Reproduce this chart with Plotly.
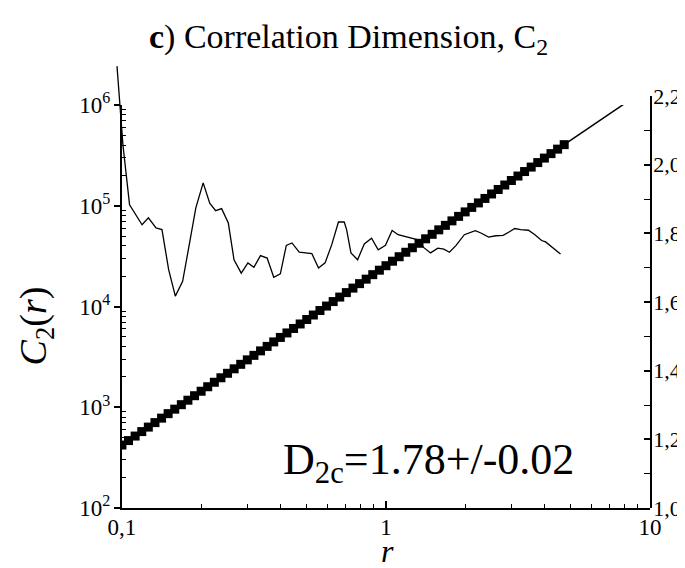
import plotly.graph_objects as go

# ---- data ----
r_c2 = [0.1, 0.1059, 0.1122, 0.1189, 0.1259, 0.1334, 0.1413, 0.1496, 0.1585, 0.1679,
        0.1778, 0.1884, 0.1995, 0.2113, 0.2239, 0.2371, 0.2512, 0.2661, 0.2818, 0.2985,
        0.3162, 0.3350, 0.3548, 0.3758, 0.3981, 0.4217, 0.4467, 0.4732, 0.5012, 0.5309,
        0.5623, 0.5957, 0.6310, 0.6683, 0.7079, 0.7499, 0.7943, 0.8414, 0.8913, 0.9441,
        1.0, 1.059, 1.122, 1.189, 1.259, 1.334, 1.413, 1.496, 1.585, 1.679,
        1.778, 1.884, 1.995, 2.113, 2.239, 2.371, 2.512, 2.661, 2.818, 2.985,
        3.162, 3.350, 3.548, 3.758, 3.981, 4.217, 4.467, 4.732]
c2 = [421.7, 467.1, 517.6, 573.5, 635.3, 703.9, 779.8, 864.0, 957.2, 1060.5,
      1174.9, 1301.7, 1442.1, 1597.7, 1770.1, 1961.1, 2172.7, 2407.2, 2666.9, 2954.6,
      3273.4, 3626.6, 4017.9, 4451.4, 4931.7, 5463.9, 6053.4, 6706.5, 7430, 8232,
      9120, 1.0104e4, 1.1194e4, 1.2402e4, 1.3740e4, 1.5223e4, 1.6866e4, 1.8685e4, 2.0701e4, 2.2935e4,
      2.5410e4, 2.8151e4, 3.1189e4, 3.4554e4, 3.8282e4, 4.2413e4, 4.6989e4, 5.2059e4, 5.7677e4, 6.3900e4,
      7.0795e4, 7.8433e4, 8.6896e4, 9.6272e4, 1.0666e5, 1.1817e5, 1.3092e5, 1.4505e5, 1.6069e5, 1.7804e5,
      1.9724e5, 2.1852e5, 2.4210e5, 2.6823e5, 2.9717e5, 3.2923e5, 3.6475e5, 4.0411e5]

r_fit = [4.732, 10.0]
c_fit = [4.0411e5, 1.53e6]

r_slope = [0.0958, 0.1009, 0.1069, 0.1192, 0.1260, 0.1346, 0.1418, 0.1503, 0.1593, 0.1698,
           0.1799, 0.1905, 0.2031, 0.2151, 0.2265, 0.2386, 0.2529, 0.2658, 0.2831, 0.3000,
           0.3161, 0.3348, 0.3548, 0.3759, 0.3981, 0.4194, 0.4405, 0.4694, 0.5240, 0.5553,
           0.5881, 0.6233, 0.6607, 0.6948, 0.7096, 0.7368, 0.7809, 0.8277, 0.8819, 0.9346,
           0.9956, 1.0553, 1.1117, 1.3224, 1.3881, 1.4748, 1.5727, 1.6566, 1.7393, 1.8432,
           1.9807, 2.1786, 2.2889, 2.4471, 2.6078, 2.7780, 2.9262, 3.0744, 3.2381, 3.4633,
           3.6660, 3.8859, 4.0227, 4.5814]
d_slope = [2.287, 2.057, 1.883, 1.825, 1.845, 1.816, 1.811, 1.694, 1.617, 1.660,
           1.767, 1.874, 1.947, 1.888, 1.866, 1.872, 1.830, 1.723, 1.684, 1.714,
           1.701, 1.735, 1.728, 1.672, 1.682, 1.765, 1.772, 1.745, 1.741, 1.699,
           1.714, 1.767, 1.833, 1.833, 1.811, 1.743, 1.723, 1.769, 1.786, 1.752,
           1.765, 1.808, 1.796, 1.781, 1.759, 1.743, 1.757, 1.754, 1.745, 1.765,
           1.796, 1.808, 1.801, 1.789, 1.793, 1.794, 1.804, 1.814, 1.811, 1.809,
           1.796, 1.779, 1.775, 1.740]

x_tickvals = [0.1, 1, 10]
x_ticktext = ["0,1", "1", "10"]
y_tickvals = [1e2, 1e3, 1e4, 1e5, 1e6]
y_ticktext = ["10<sup>2</sup>", "10<sup>3</sup>", "10<sup>4</sup>", "10<sup>5</sup>", "10<sup>6</sup>"]
y2_tickvals = [1.0, 1.2, 1.4, 1.6, 1.8, 2.0, 2.2]
y2_ticktext = ["1,0", "1,2", "1,4", "1,6", "1,8", "2,0", "2,2"]

FONT = "Liberation Serif"

# ---- geometry (pixels) ----
W, H = 685, 568
L, R, T, B = 100, 40, 50, 68
pw, ph = W - L - R, H - T - B
ax_left = 114
dec_px = (W - R - ax_left) / 2.0
y2_top = 88
y1_top = 97
y2_unit_px = (H - B - y2_top) / 1.2

x_dom0 = (ax_left - L) / pw
x3_lo = -1 - (ax_left - L) / dec_px
y3_hi = 1.0 + ph / y2_unit_px

minor_x = [0.2, 0.3, 0.4, 0.5, 0.6, 0.7, 0.8, 0.9, 2, 3, 4, 5, 6, 7, 8, 9]
minor_y = [m * 10 ** e for e in range(2, 6) for m in range(2, 10)]
minor_y2 = [1.1, 1.3, 1.5, 1.7, 1.9, 2.1]

fig = go.Figure()

fig.add_trace(go.Scatter(x=r_fit, y=c_fit, mode="lines",
                         line=dict(color="black", width=1.5),
                         xaxis="x", yaxis="y", showlegend=False, hoverinfo="skip"))
fig.add_trace(go.Scatter(x=r_c2, y=c2, mode="lines+markers",
                         line=dict(color="black", width=1.5),
                         marker=dict(symbol="square", size=9, color="black"),
                         xaxis="x", yaxis="y", showlegend=False))
# carrier so that the right-hand axis is drawn
fig.add_trace(go.Scatter(x=[1.0], y=[1.5], mode="markers", marker=dict(opacity=0, size=1),
                         xaxis="x", yaxis="y2", showlegend=False, hoverinfo="skip"))
fig.add_trace(go.Scatter(x=r_slope, y=d_slope, mode="lines",
                         line=dict(color="black", width=1.3),
                         xaxis="x3", yaxis="y3", showlegend=False))

tickfont = dict(family=FONT, size=23, color="black")

fig.update_layout(
    width=W, height=H, autosize=False,
    margin=dict(l=L, r=R, t=T, b=B, pad=0),
    paper_bgcolor="white", plot_bgcolor="rgba(0,0,0,0)",
    font=dict(family=FONT, color="black"),
    xaxis=dict(type="log", range=[-1, 1], domain=[x_dom0, 1], anchor="y",
               showline=True, linewidth=2, linecolor="black", mirror=False,
               showgrid=False, zeroline=False,
               ticks="inside", ticklen=7, tickwidth=1.5, tickcolor="black",
               tickmode="array", tickvals=x_tickvals, ticktext=x_ticktext,
               tickfont=tickfont, ticklabelstandoff=-3,
               minor=dict(ticks="inside", ticklen=4, tickwidth=1.2, tickcolor="black",
                          tickmode="array", tickvals=minor_x, showgrid=False)),
    yaxis=dict(type="log", range=[2, 6], domain=[0, (H - B - y1_top) / ph], anchor="x",
               showline=True, linewidth=2, linecolor="black",
               showgrid=False, zeroline=False,
               ticks="outside", ticklen=6, tickwidth=1.5, tickcolor="black",
               tickmode="array", tickvals=y_tickvals, ticktext=y_ticktext,
               tickfont=tickfont, ticklabelstandoff=-1,
               minor=dict(ticks="inside", ticklen=4, tickwidth=1.2, tickcolor="black",
                          tickmode="array", tickvals=minor_y, showgrid=False)),
    yaxis2=dict(range=[1.0, 2.2], domain=[0, (H - B - y2_top) / ph], anchor="x",
                side="right", showline=True, linewidth=1.5, linecolor="black",
                showgrid=False, zeroline=False,
                ticks="inside", ticklen=6, tickwidth=1.5, tickcolor="black",
                tickmode="array", tickvals=y2_tickvals, ticktext=y2_ticktext,
                tickfont=dict(family=FONT, size=22, color="black"), ticklabelstandoff=-3,
                minor=dict(ticks="inside", ticklen=6, tickwidth=1.2, tickcolor="black",
                           tickmode="array", tickvals=minor_y2, showgrid=False)),
    xaxis3=dict(type="log", range=[x3_lo, 1], domain=[0, 1], anchor="y3", visible=False),
    yaxis3=dict(range=[1.0, y3_hi], domain=[0, 1], anchor="x3", visible=False),
)


def px_x(p):
    return (p - L) / pw


def px_y(p):
    return (H - B - p) / ph


fig.add_annotation(x=px_x(342), y=px_y(31), xref="paper", yref="paper",
                   text="<b>c</b>) Correlation Dimension, C<sub>2</sub>",
                   showarrow=False, xanchor="center", yanchor="middle",
                   font=dict(family=FONT, size=34, color="black"))
fig.add_annotation(x=px_x(28), y=px_y(318), xref="paper", yref="paper",
                   text="<i>C</i><sub>2</sub>(<i>r</i>)", textangle=-90,
                   showarrow=False, xanchor="center", yanchor="middle",
                   font=dict(family=FONT, size=38, color="black"))
fig.add_annotation(x=px_x(381), y=px_y(563), xref="paper", yref="paper",
                   text="<i>r</i>", showarrow=False, xanchor="center", yanchor="bottom",
                   font=dict(family=FONT, size=32, color="black"))
fig.add_annotation(x=px_x(422), y=px_y(454), xref="paper", yref="paper",
                   text="D<sub>2c</sub>=1.78+/-0.02", showarrow=False,
                   xanchor="center", yanchor="middle",
                   font=dict(family=FONT, size=44, color="black"))

fig.write_html("out.html")
